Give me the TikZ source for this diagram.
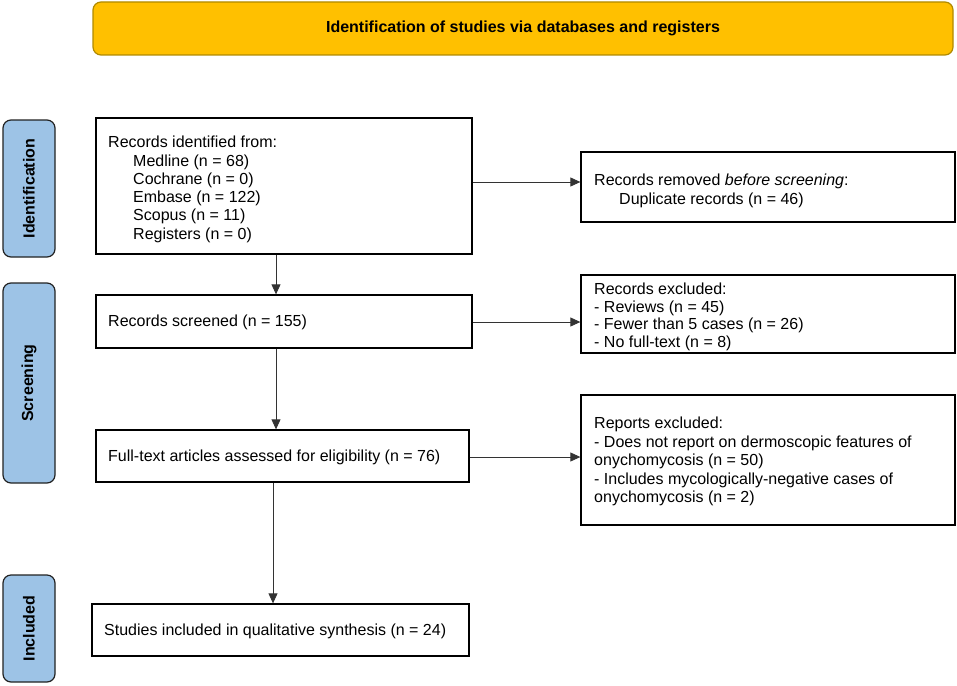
\documentclass[tikz,border=0pt]{standalone}
\usepackage{fontspec}
\setmainfont{Liberation Sans}
\usetikzlibrary{arrows.meta}
\definecolor{banner}{HTML}{FFC000}
\definecolor{bannerline}{HTML}{B08A00}
\definecolor{phase}{HTML}{9DC3E6}
\definecolor{phaseline}{HTML}{222222}
\tikzset{
  box/.style={draw=black, line width=1.3pt, inner sep=0pt},
  txt/.style={anchor=west, align=left, font=\fontsize{16}{18.5}\selectfont, inner sep=0pt},
  phasebox/.style={draw=phaseline, fill=phase, line width=1.2pt, rounded corners=8pt},
  phasetxt/.style={rotate=90, font=\fontsize{16}{18}\selectfont\bfseries, inner sep=0pt},
  arr/.style={-{Triangle[length=10pt,width=9pt]}, line width=0.8pt, draw=black!80}
}
\begin{document}
\begin{tikzpicture}[x=1pt,y=-1pt]
\useasboundingbox (0,0) rectangle (957,685);
% banner
\draw[draw=bannerline, fill=banner, line width=1.2pt, rounded corners=8pt] (93,2) rectangle (953,55);
\node[font=\fontsize{16}{18}\selectfont\bfseries, inner sep=0pt] (bt) at (523,28.5) {Identification of studies via databases and registers};
% phase labels
\draw[phasebox] (3,120) rectangle (55,257);
\node[phasetxt] (pid) at (29,188.5) {Identification};
\draw[phasebox] (3,283) rectangle (55,483);
\node[phasetxt] (psc) at (29,383) {Screening};
\draw[phasebox] (3,575) rectangle (55,682);
\node[phasetxt] (pin) at (29,628.5) {Included};
% boxes
\node[box, minimum width=376pt, minimum height=136pt] (rid) at (284,186) {};
\node[txt, anchor=north west, font=\fontsize{16}{18.3}\selectfont] (t1) at (108,136) {Records identified from:\\
\hspace{25pt}Medline (n = 68)\\
\hspace{25pt}Cochrane (n = 0)\\
\hspace{25pt}Embase (n = 122)\\
\hspace{25pt}Scopus (n = 11)\\
\hspace{25pt}Registers (n = 0)};

\node[box, minimum width=374pt, minimum height=70pt] (rem) at (768,187) {};
\node[txt, anchor=north west] (t2) at (594,174) {Records removed \textit{before screening}:\\
\hspace{25pt}Duplicate records (n = 46)};

\node[box, minimum width=376pt, minimum height=53pt] (scr) at (284,321.5) {};
\node[txt] (t3) at (108,322) {Records screened (n = 155)};

\node[box, minimum width=374pt, minimum height=78pt] (exc) at (768,314) {};
\node[txt, anchor=north west, font=\fontsize{16}{17.6}\selectfont] (t4) at (594,283) {Records excluded:\\
- Reviews (n = 45)\\
- Fewer than 5 cases (n = 26)\\
- No full-text (n = 8)};

\node[box, minimum width=373pt, minimum height=52pt] (ft) at (282.5,456) {};
\node[txt] (t5) at (108,457) {Full-text articles assessed for eligibility (n = 76)};

\node[box, minimum width=374pt, minimum height=130pt] (rep) at (768,460) {};
\node[txt, anchor=north west, font=\fontsize{16}{18.4}\selectfont] (t6) at (594,417) {Reports excluded:\\
- Does not report on dermoscopic features of\\
onychomycosis (n = 50)\\
- Includes mycologically-negative cases of\\
onychomycosis (n = 2)};

\node[box, minimum width=377pt, minimum height=52pt] (inc) at (280.5,630) {};
\node[txt] (t7) at (104,631) {Studies included in qualitative synthesis (n = 24)};

% arrows
\draw[arr] (rid.south -| 276,0) -- (scr.north -| 276,0);
\draw[arr] (scr.south -| 276,0) -- (ft.north -| 276,0);
\draw[arr] (ft.south -| 273,0) -- (inc.north -| 273,0);
\draw[arr] (rid.east |- 0,182) -- (rem.west |- 0,182);
\draw[arr] (scr.east |- 0,322) -- (exc.west |- 0,322);
\draw[arr] (ft.east |- 0,457) -- (rep.west |- 0,457);
\end{tikzpicture}
\end{document}
